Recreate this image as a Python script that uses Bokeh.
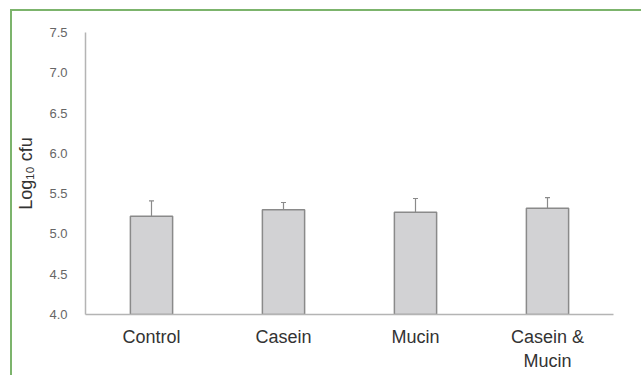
from bokeh.plotting import figure
from bokeh.models import ColumnDataSource, Whisker, TeeHead, FixedTicker
from bokeh.embed import file_html
from bokeh.resources import INLINE

# Bacterial counts per growth condition (log10 cfu), mean and upper error
categories = ["Control", "Casein", "Mucin", "Casein &\nMucin"]
means = [5.22, 5.30, 5.27, 5.32]
errors = [0.19, 0.09, 0.17, 0.13]
y_ticks = [4.0, 4.5, 5.0, 5.5, 6.0, 6.5, 7.0, 7.5]

src = ColumnDataSource(dict(
    cat=categories,
    mean=means,
    upper=[m + e for m, e in zip(means, errors)],
))

FONT = "Liberation Sans"
GREEN = "#7cb46c"

p = figure(
    x_range=categories, y_range=(4.0, 7.5),
    width=631, height=366,
    output_backend="svg", toolbar_location=None,
    min_border_left=73, min_border_right=30,
    min_border_top=21, min_border_bottom=63,
    outline_line_color=None,
    styles={"margin-left": "10px", "margin-top": "9px",
            "border-left": f"2px solid {GREEN}",
            "border-top": f"2px solid {GREEN}"},
)

p.vbar(x="cat", top="mean", bottom=4.0, width=0.32, source=src,
       fill_color="#d2d2d4", line_color="#8a8a8a", line_width=1.5)

p.add_layout(Whisker(
    source=src, base="cat", upper="upper", lower="mean",
    line_color="#8a8a8a", line_width=1.2,
    upper_head=TeeHead(size=5, line_color="#8a8a8a", line_width=1.2),
    lower_head=None,
))

p.xgrid.visible = False
p.ygrid.visible = False

for ax in (p.xaxis, p.yaxis):
    ax.axis_line_color = "#b4b4b4"
    ax.axis_line_width = 1.5
    ax.major_tick_line_color = None
    ax.minor_tick_line_color = None

p.yaxis.ticker = FixedTicker(ticks=y_ticks)
p.yaxis.major_label_overrides = {t: f"{t:.1f}" for t in y_ticks}
p.yaxis.major_label_text_font = FONT
p.yaxis.major_label_text_font_size = "13px"
p.yaxis.major_label_text_color = "#666666"
p.yaxis.major_label_standoff = 12
p.yaxis.axis_label = "Log₁₀ cfu"
p.yaxis.axis_label_text_font = FONT
p.yaxis.axis_label_text_font_style = "normal"
p.yaxis.axis_label_text_font_size = "18px"
p.yaxis.axis_label_text_color = "#333333"
p.yaxis.axis_label_standoff = 10

p.xaxis.major_label_text_font = FONT
p.xaxis.major_label_text_font_size = "18px"
p.xaxis.major_label_text_color = "#333333"
p.xaxis.major_label_standoff = 6

open("out.html", "w").write(file_html(p, INLINE))
